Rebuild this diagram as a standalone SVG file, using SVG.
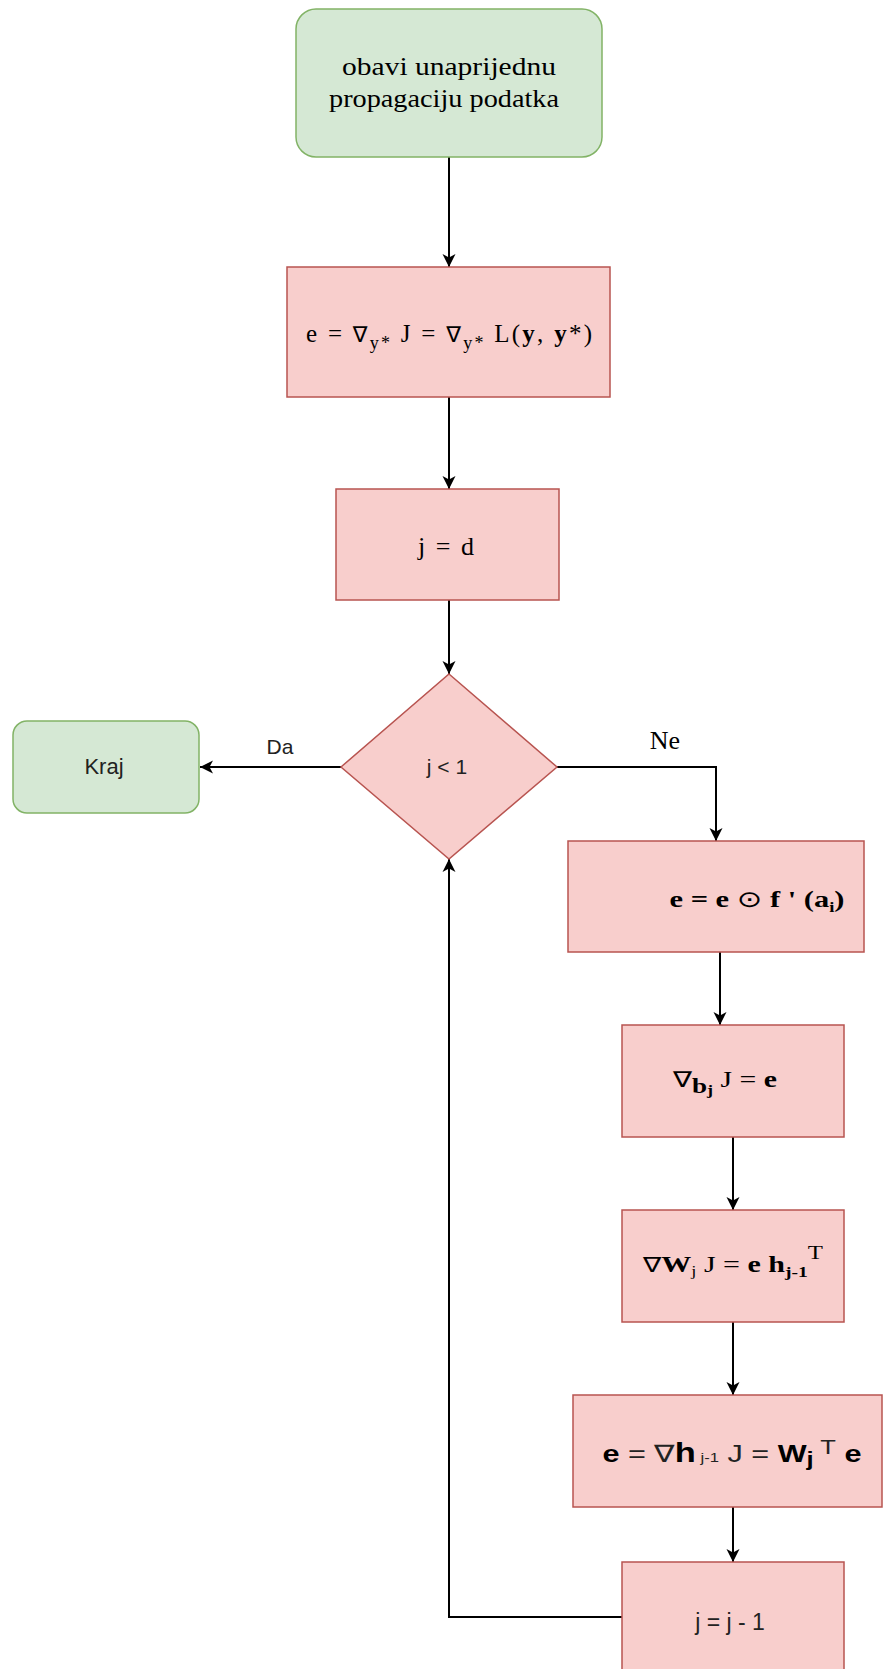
<svg xmlns="http://www.w3.org/2000/svg" width="883" height="1669" viewBox="0 0 883 1669">
<style>
.g{fill:#d5e8d4;stroke:#82b366;stroke-width:1.5}
.r{fill:#f8cecc;stroke:#b85450;stroke-width:1.5}
.c{fill:none;stroke:#000;stroke-width:2}
.sf{font-family:"Liberation Serif","Times New Roman",serif;fill:#000}
.ss{font-family:"Liberation Sans",Arial,sans-serif;fill:#222}
.b{font-weight:bold}
.n{font-family:"DejaVu Sans",sans-serif;font-weight:normal}
</style>
<defs>
<marker id="ah" markerUnits="userSpaceOnUse" viewBox="-1 -8 16 16" markerWidth="16" markerHeight="16" refX="13" refY="0" orient="auto">
<path d="M0,-6.5 L13,0 L0,6.5 L3.5,0 Z" fill="#000"/>
</marker>
</defs>
<g id="connectors">
<path class="c" d="M449,157 L449,267" marker-end="url(#ah)"/>
<path class="c" d="M449,397 L449,489" marker-end="url(#ah)"/>
<path class="c" d="M449,600 L449,674" marker-end="url(#ah)"/>
<path class="c" d="M341,767 L200,767" marker-end="url(#ah)"/>
<text class="ss" x="280" y="754" font-size="21" text-anchor="middle">Da</text>
<path class="c" d="M557,767 L716,767 L716,841" marker-end="url(#ah)"/>
<text class="sf" x="665" y="749" font-size="26" text-anchor="middle">Ne</text>
<path class="c" d="M720,952 L720,1025" marker-end="url(#ah)"/>
<path class="c" d="M733,1137 L733,1210" marker-end="url(#ah)"/>
<path class="c" d="M733,1322 L733,1395" marker-end="url(#ah)"/>
<path class="c" d="M733,1507 L733,1562" marker-end="url(#ah)"/>
<path class="c" d="M622,1617 L449,1617 L449,859" marker-end="url(#ah)"/>
</g>
<g id="start">
<rect class="g" x="296" y="9" width="306" height="148" rx="20"/>
<text class="sf" x="449" y="75" font-size="25" text-anchor="middle" textLength="214" lengthAdjust="spacingAndGlyphs">obavi unaprijednu</text>
<text class="sf" x="444" y="107" font-size="25" text-anchor="middle" textLength="230" lengthAdjust="spacingAndGlyphs">propagaciju podatka</text>
</g>
<g id="error">
<rect class="r" x="287" y="267" width="323" height="130"/>
<text class="sf" x="449" y="342" font-size="25" text-anchor="middle" textLength="286" lengthAdjust="spacing">e = <tspan class="n" font-size="22">∇</tspan><tspan font-size="18" dy="7">y*</tspan><tspan dy="-7"> J = </tspan><tspan class="n" font-size="22">∇</tspan><tspan font-size="18" dy="7">y*</tspan><tspan dy="-7"> L(</tspan><tspan class="b">y</tspan>, <tspan class="b">y</tspan>*)</text>
</g>
<g id="init">
<rect class="r" x="336" y="489" width="223" height="111"/>
<text class="sf" x="446" y="555" font-size="26" text-anchor="middle" textLength="56" lengthAdjust="spacing">j = d</text>
</g>
<g id="decision">
<polygon class="r" points="449,674 557,767 449,859 341,767"/>
<text class="ss" x="447" y="774" font-size="21" text-anchor="middle">j &lt; 1</text>
</g>
<g id="end">
<rect class="g" x="13" y="721" width="186" height="92" rx="14"/>
<text class="ss" x="104" y="774" font-size="22" text-anchor="middle">Kraj</text>
</g>
<g id="hadamard">
<rect class="r" x="568" y="841" width="296" height="111"/>
<text class="sf" x="757" y="907" font-size="23" text-anchor="middle" textLength="175" lengthAdjust="spacingAndGlyphs"><tspan class="b">e = e </tspan><tspan class="n">⊙</tspan><tspan class="b"> f ' (a</tspan><tspan class="b" font-size="14" dy="5">i</tspan><tspan class="b" dy="-5">)</tspan></text>
</g>
<g id="gradb">
<rect class="r" x="622" y="1025" width="222" height="112"/>
<text class="sf" x="725" y="1087" font-size="23" text-anchor="middle" textLength="104" lengthAdjust="spacingAndGlyphs"><tspan class="n" font-size="22">∇</tspan><tspan class="b" font-size="21" dy="6">b</tspan><tspan class="b" font-size="14" dy="2">j</tspan><tspan dy="-8"> J = </tspan><tspan class="b">e</tspan></text>
</g>
<g id="gradW">
<rect class="r" x="622" y="1210" width="222" height="112"/>
<text class="sf" x="733" y="1272" font-size="23" text-anchor="middle" textLength="180" lengthAdjust="spacingAndGlyphs"><tspan class="n" font-size="21">∇</tspan><tspan class="b">W</tspan><tspan font-size="14" dy="4">j</tspan><tspan dy="-4"> J = </tspan><tspan class="b">e h</tspan><tspan class="b" font-size="15" dy="5">j-1</tspan><tspan font-size="19" dy="-18">T</tspan></text>
</g>
<g id="backprop">
<rect class="r" x="573" y="1395" width="309" height="112"/>
<text class="ss" x="732" y="1462" font-size="24" text-anchor="middle" textLength="259" lengthAdjust="spacingAndGlyphs"><tspan class="b" fill="#000">e</tspan> = ∇<tspan class="b" fill="#000" font-size="27">h</tspan><tspan font-size="13"> j-1</tspan> J = <tspan class="b" fill="#000">W</tspan><tspan class="b" fill="#000" font-size="20" dy="4">j</tspan><tspan font-size="20" dy="-12"> T</tspan><tspan class="b" fill="#000" dy="8"> e</tspan></text>
</g>
<g id="decrement">
<rect class="r" x="622" y="1562" width="222" height="112"/>
<text class="ss" x="730" y="1630" font-size="23" text-anchor="middle">j = j - 1</text>
</g>
</svg>
